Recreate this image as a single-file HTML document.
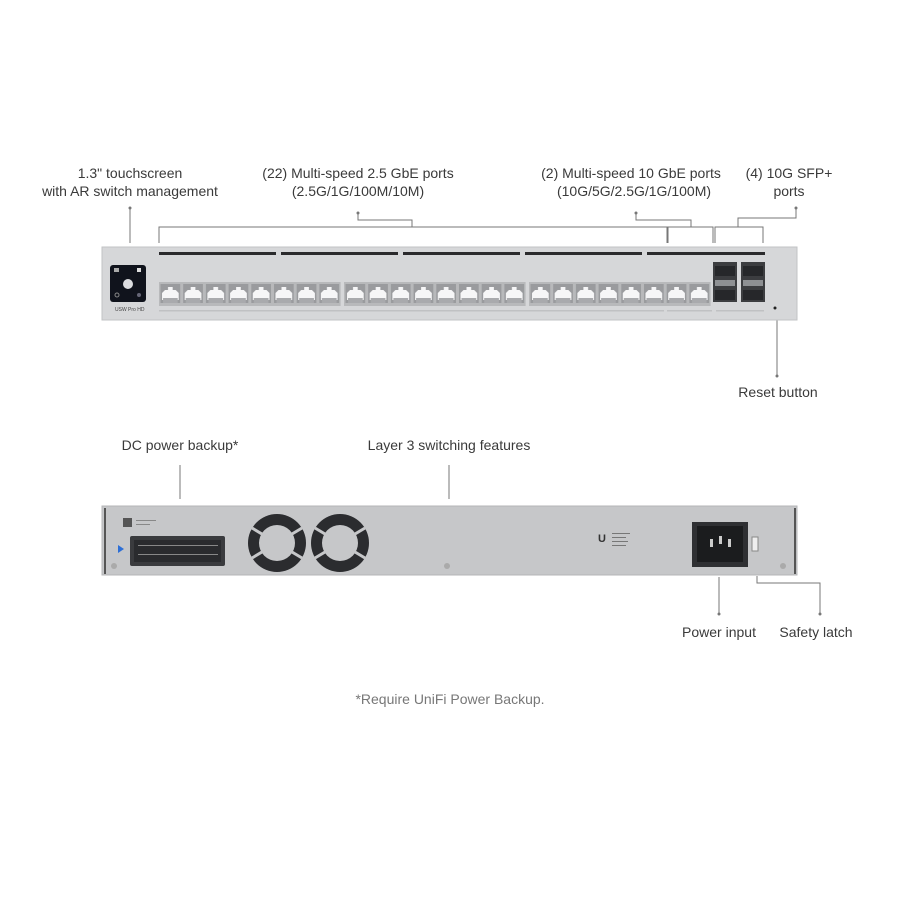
<!DOCTYPE html>
<html><head><meta charset="utf-8"><style>
html,body{margin:0;padding:0;background:#fff;width:900px;height:900px;overflow:hidden}
svg{display:block}
text{font-family:"Liberation Sans",sans-serif;fill:#3a3a3a;font-size:14px}
</style></head><body>
<svg width="900" height="900" viewBox="0 0 900 900" xmlns="http://www.w3.org/2000/svg">
<defs>
<pattern id="pp" patternUnits="userSpaceOnUse" x="159" y="282" width="22.7" height="24">
<rect x="0" y="0" width="22.7" height="24" fill="#b8b9bb"/>
<rect x="1.5" y="2" width="19.7" height="19" fill="#9a9b9e"/>
<path d="M3 18 L3 11 L6 8 L9 8 L9 5 L13.7 5 L13.7 8 L16.7 8 L19.7 11 L19.7 18 Z" fill="#f6f6f7"/>
<rect x="4" y="16" width="14.7" height="5" fill="#a9aaad"/>
</pattern>
</defs>
<text x="130" y="178" text-anchor="middle">1.3" touchscreen</text>
<text x="130" y="196" text-anchor="middle">with AR switch management</text>
<text x="358" y="178" text-anchor="middle">(22) Multi-speed 2.5 GbE ports</text>
<text x="358" y="196" text-anchor="middle">(2.5G/1G/100M/10M)</text>
<text x="631" y="178" text-anchor="middle">(2) Multi-speed 10 GbE ports</text>
<text x="634" y="196" text-anchor="middle">(10G/5G/2.5G/1G/100M)</text>
<text x="789" y="178" text-anchor="middle">(4) 10G SFP+</text>
<text x="789" y="196" text-anchor="middle">ports</text>
<text x="778" y="397" text-anchor="middle">Reset button</text>
<text x="180" y="450" text-anchor="middle">DC power backup*</text>
<text x="449" y="450" text-anchor="middle">Layer 3 switching features</text>
<text x="719" y="637" text-anchor="middle">Power input</text>
<text x="816" y="637" text-anchor="middle">Safety latch</text>
<text x="450" y="704" text-anchor="middle" style="fill:#777">*Require UniFi Power Backup.</text>

<g stroke="#777" stroke-width="1" fill="none">
<path d="M130 208 V243"/>
<path d="M358 213 V220 H412 V227"/>
<path d="M159 243 V227 H667 V243"/>
<path d="M636 213 V220 H691 V227"/>
<path d="M668 243 V227 H713 V243"/>
<path d="M796 208 V218 H738 V227"/>
<path d="M715 243 V227 H763 V243"/>
<path d="M777 318 V376"/>
<path d="M180 465 V499"/>
<path d="M449 465 V499"/>
<path d="M719 577 V614"/>
<path d="M757 576 V583 H820 V614"/>
</g>
<g fill="#777">
<circle cx="130" cy="208" r="1.5"/><circle cx="358" cy="213" r="1.5"/><circle cx="636" cy="213" r="1.5"/><circle cx="796" cy="208" r="1.5"/>
<circle cx="777" cy="376" r="1.5"/><circle cx="719" cy="614" r="1.5"/><circle cx="820" cy="614" r="1.5"/>
</g>

<rect x="102" y="247" width="695" height="73" fill="#d6d7d9" stroke="#c2c3c5"/>
<g fill="#2a2a2c">
<rect x="159" y="252" width="117" height="3"/>
<rect x="281" y="252" width="117" height="3"/>
<rect x="403" y="252" width="117" height="3"/>
<rect x="525" y="252" width="117" height="3"/>
<rect x="647" y="252" width="118" height="3"/>
</g>
<rect x="110" y="265" width="36" height="37" rx="3" fill="#10131c"/>
<circle cx="128" cy="284" r="5" fill="#dcdde0"/>
<rect x="114" y="268" width="5" height="4" fill="#aaa"/><rect x="137" y="268" width="4" height="4" fill="#ddd"/>
<circle cx="117" cy="295" r="2" fill="none" stroke="#888"/><circle cx="139" cy="295" r="2" fill="#667"/>
<text x="115" y="311" style="font-size:5px;fill:#444">USW Pro HD</text>
<rect x="159" y="282" width="181.6" height="24" fill="url(#pp)"/>
<g transform="translate(185,0)"><rect x="159" y="282" width="181.6" height="24" fill="url(#pp)"/></g>
<g transform="translate(370,0)"><rect x="159" y="282" width="181.6" height="24" fill="url(#pp)"/></g>
<rect x="159" y="310" width="505" height="1.5" fill="#c0c1c3"/>
<rect x="667" y="310" width="45" height="1.5" fill="#c0c1c3"/>
<rect x="716" y="310" width="48" height="1.5" fill="#c0c1c3"/>
<g>
<rect x="713" y="262" width="24" height="40" fill="#3c3d40"/>
<rect x="741" y="262" width="24" height="40" fill="#3c3d40"/>
<rect x="715" y="280" width="20" height="6" fill="#8e9093"/>
<rect x="743" y="280" width="20" height="6" fill="#8e9093"/>
<rect x="715" y="266" width="20" height="10" fill="#26272a"/>
<rect x="743" y="266" width="20" height="10" fill="#26272a"/>
<rect x="715" y="290" width="20" height="10" fill="#26272a"/>
<rect x="743" y="290" width="20" height="10" fill="#26272a"/>
</g>
<circle cx="775" cy="308" r="1.5" fill="#222"/>

<rect x="102" y="506" width="695" height="69" fill="#c6c7c9" stroke="#b4b5b7"/>
<rect x="104" y="508" width="2" height="66" fill="#555"/>
<rect x="794" y="508" width="2" height="66" fill="#555"/>
<rect x="130" y="536" width="95" height="30" rx="2" fill="#3a3b3e"/>
<rect x="134" y="540" width="87" height="22" fill="#2a2b2e"/>
<g fill="#888"><rect x="138" y="545" width="80" height="1"/><rect x="138" y="554" width="80" height="1"/></g>
<rect x="123" y="518" width="9" height="9" fill="#555"/>
<rect x="136" y="520" width="20" height="1" fill="#888"/><rect x="136" y="524" width="14" height="1" fill="#888"/>
<polygon points="118,545 118,553 124,549" fill="#2d6fd6"/>
<circle cx="277" cy="543" r="29" fill="#2b2c2f"/>
<circle cx="340" cy="543" r="29" fill="#2b2c2f"/>
<g stroke="#c6c7c9" stroke-width="3"><path d="M252 528 L302 558 M252 558 L302 528"/><path d="M315 528 L365 558 M315 558 L365 528"/></g>
<circle cx="277" cy="543" r="18" fill="#c6c7c9"/><circle cx="340" cy="543" r="18" fill="#c6c7c9"/>
<circle cx="114" cy="566" r="3" fill="#aaa"/><circle cx="447" cy="566" r="3" fill="#aaa"/><circle cx="783" cy="566" r="3" fill="#aaa"/>
<text x="598" y="542" style="font-size:11px;fill:#333;font-weight:bold">U</text>
<g fill="#777"><rect x="612" y="533" width="18" height="1"/><rect x="612" y="537" width="14" height="1"/><rect x="612" y="541" width="16" height="1"/><rect x="612" y="545" width="14" height="1"/></g>
<rect x="692" y="522" width="56" height="45" fill="#2f3033"/>
<rect x="697" y="526" width="46" height="36" fill="#1b1c1e"/>
<rect x="710" y="539" width="3" height="8" fill="#ccc"/><rect x="719" y="536" width="3" height="8" fill="#ccc"/><rect x="728" y="539" width="3" height="8" fill="#ccc"/>
<rect x="752" y="537" width="6" height="14" fill="#eee" stroke="#888"/>
</svg>
</body></html>
